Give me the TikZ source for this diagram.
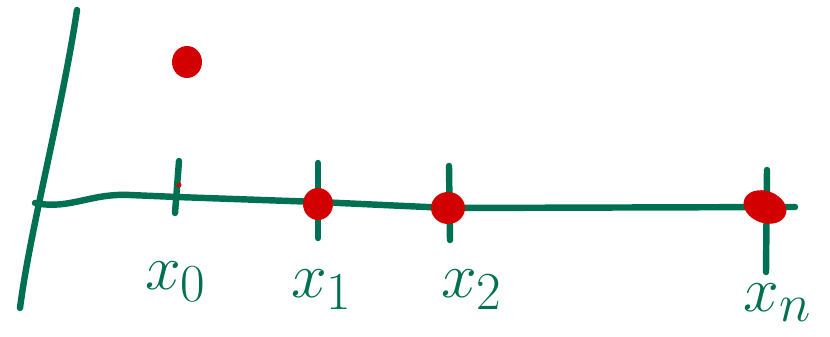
\documentclass[tikz,border=0pt]{standalone}
\usepackage{amsmath}
\usepackage{tikz}
\definecolor{penGreen}{RGB}{0,112,82}
\definecolor{penRed}{RGB}{210,0,0}

\begin{document}
\begin{tikzpicture}[x=0.03cm,y=-0.03cm]
		\tikzset{pen/.style={line width=5.5pt,penGreen,line cap=round,line join=round}};
		\tikzset{blob/.style={fill=penRed,draw=none}};
		\tikzset{lbl/.style={penGreen,font=\Huge,scale=2.2,transform shape}};
		\useasboundingbox (0,0) rectangle (830,337);
		% axes
		\draw[pen] (77,10) .. controls (62,110) and (30,230) .. (20,308);
		\draw[pen] (35,203) .. controls (70,210) and (90,193) .. (130,195) -- (177,197) -- (318,202) -- (448,208) -- (795,207);
		% ticks
		\draw[pen] (179,161) -- (175,213);
		\draw[pen] (318,163) -- (318,238);
		\draw[pen] (449,166) -- (450,240);
		\draw[pen] (767,170) -- (766,272);
		% points
		\fill[blob] (187,62) ellipse (15 and 16);
		\fill[blob] (179,185) circle (2.5);
		\fill[blob] (318,204) ellipse (15 and 16);
		\fill[blob] (448,208) ellipse (17 and 16);
		\fill[blob,rotate around={-20:(765,207)}] (765,207) ellipse (22 and 16);
		% labels
		\node[lbl] (x0) at (176,282) {$x_0$};
		\node[lbl] (x1) at (322,290) {$x_1$};
		\node[lbl] (x2) at (472,290) {$x_2$};
		\node[lbl] (xn) at (778,303) {$x_n$};
\end{tikzpicture}
\end{document}
